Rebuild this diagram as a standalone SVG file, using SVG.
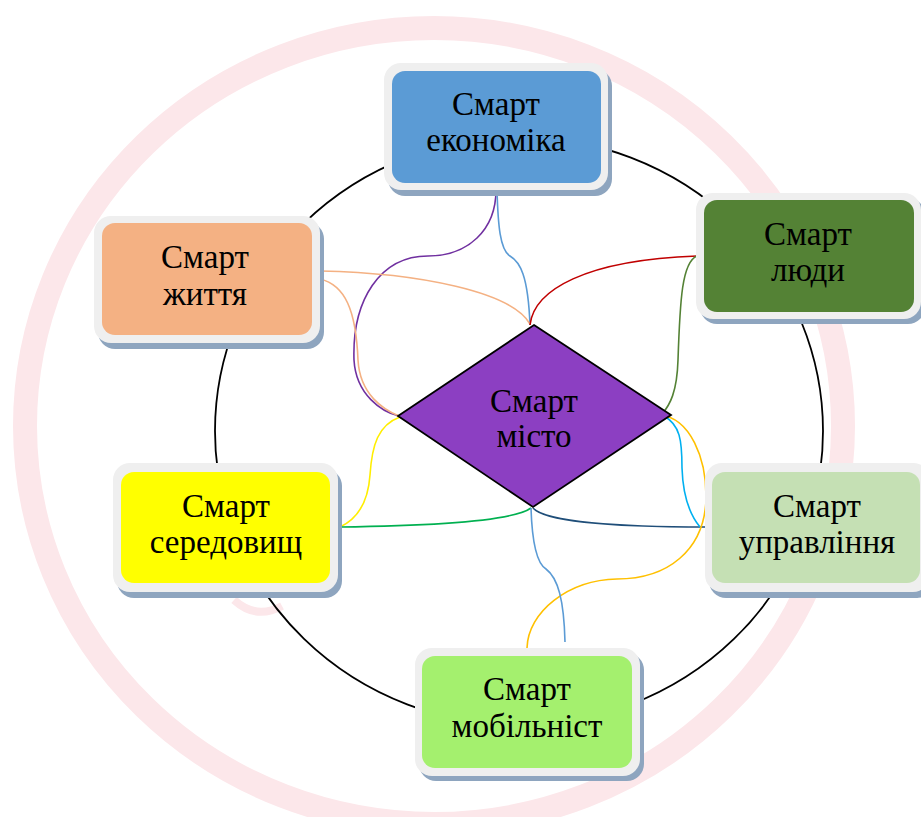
<svg xmlns="http://www.w3.org/2000/svg" width="921" height="817" viewBox="0 0 921 817">
<defs>
<style>
.frame{fill:#efefef}
.shadow{fill:#8ea5bf}
.lbl{font-family:"Liberation Serif","Times New Roman",serif;font-size:33px;fill:#000;text-anchor:middle}
.c{fill:none;stroke-width:1.6}
</style>
</defs>
<rect width="921" height="817" fill="#ffffff"/>
<g id="watermark">
<ellipse cx="434" cy="426" rx="409" ry="398" fill="none" stroke="#fce7ea" stroke-width="24"/>
<path d="M234,600 Q256,620 282,606" fill="none" stroke="#fce7ea" stroke-width="8"/>
</g>
<ellipse id="ring" cx="519" cy="431" rx="304" ry="294" fill="none" stroke="#000" stroke-width="1.8"/>
<g id="connectors">
<path class="c" stroke="#7030a0" d="M496,190 C496,230 468,256 428,256 C380,256 352,300 354,360 C356,395 382,412 399,416"/>
<path class="c" stroke="#5b9bd5" d="M497,190 C498,225 500,250 510,256 C520,262 528,275 530,325"/>
<path class="c" stroke="#f4b183" d="M320,271 C420,273 512,292 530,324"/>
<path class="c" stroke="#f4b183" d="M320,279 C345,285 356,310 358,360 C360,395 384,410 399,416"/>
<path class="c" stroke="#c00000" d="M530,325 C534,290 585,260 697,256"/>
<path class="c" stroke="#548235" d="M697,256 C682,262 680,300 678,360 C677,392 670,405 662,414"/>
<path class="c" stroke="#ffee00" d="M400,417 C378,425 372,445 370,475 C368,505 355,520 340,527"/>
<path class="c" stroke="#00b050" d="M340,527 C420,526 512,522 531,508"/>
<path class="c" stroke="#1f4e79" d="M533,508 C545,522 620,527 706,527"/>
<path class="c" stroke="#00b0f0" d="M664,416 C680,425 682,440 682,468 C683,498 690,515 700,527"/>
<path class="c" stroke="#ffc000" d="M660,415 C690,418 707,458 706,500 C704,550 668,579 617,579 C568,580 528,612 527,648"/>
<path class="c" stroke="#5b9bd5" d="M531,508 C532,540 536,563 546,569 C558,578 564,600 565,642"/>
</g>
<g id="node-misto">
<polygon points="534,325 671,415 533,507 398,416" fill="#8c3fc2" stroke="#000" stroke-width="1.8"/>
<text class="lbl" x="534" y="412">Смарт</text>
<text class="lbl" x="534" y="447">місто</text>
</g>
<g id="node-ekonomika">
<rect class="shadow" x="388" y="69" width="224" height="127" rx="17"/>
<rect class="frame" x="384" y="63" width="224" height="127" rx="17"/>
<rect x="392" y="71" width="209" height="112" rx="13" fill="#5b9bd5"/>
<text class="lbl" x="496" y="115">Смарт</text>
<text class="lbl" x="496" y="151">економіка</text>
</g>
<g id="node-lyudy">
<rect class="shadow" x="700" y="198" width="225" height="126" rx="17"/>
<rect class="frame" x="696" y="193" width="225" height="126" rx="17"/>
<rect x="704" y="200" width="210" height="112" rx="13" fill="#548235"/>
<text class="lbl" x="808" y="245">Смарт</text>
<text class="lbl" x="808" y="281">люди</text>
</g>
<g id="node-zhyttia">
<rect class="shadow" x="98" y="222" width="226" height="127" rx="17"/>
<rect class="frame" x="94" y="216" width="226" height="127" rx="17"/>
<rect x="102" y="223" width="210" height="112" rx="13" fill="#f4b183"/>
<text class="lbl" x="205" y="268">Смарт</text>
<text class="lbl" x="205" y="305">життя</text>
</g>
<g id="node-seredovyshch">
<rect class="shadow" x="117" y="469" width="225" height="129" rx="17"/>
<rect class="frame" x="113" y="463" width="225" height="129" rx="17"/>
<rect x="121" y="472" width="209" height="111" rx="13" fill="#ffff00"/>
<text class="lbl" x="226" y="517">Смарт</text>
<text class="lbl" x="226" y="553">середовищ</text>
</g>
<g id="node-upravlinnia">
<rect class="shadow" x="709" y="469" width="225" height="129" rx="17"/>
<rect class="frame" x="705" y="463" width="225" height="129" rx="17"/>
<rect x="712" y="472" width="208" height="111" rx="13" fill="#c5e0b4"/>
<text class="lbl" x="817" y="517">Смарт</text>
<text class="lbl" x="817" y="553">управління</text>
</g>
<g id="node-mobilnist">
<rect class="shadow" x="419" y="653" width="225" height="128" rx="17"/>
<rect class="frame" x="415" y="648" width="225" height="128" rx="17"/>
<rect x="422" y="656" width="210" height="112" rx="13" fill="#a4f06e"/>
<text class="lbl" x="527" y="700">Смарт</text>
<text class="lbl" x="527" y="737">мобільніст</text>
</g>
</svg>
